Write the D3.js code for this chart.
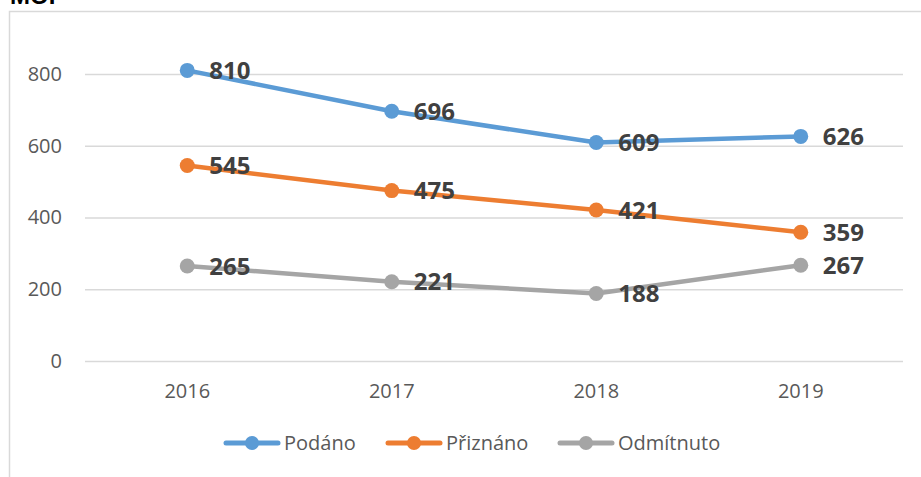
<!DOCTYPE html>
<html>
<head>
<meta charset="utf-8">
<script src="https://cdn.jsdelivr.net/npm/d3@7"></script>
<style>
  html, body { margin: 0; padding: 0; background: #fff; }
  svg { display: block; }
</style>
</head>
<body>
<svg id="chart" width="921" height="477"></svg>
<script>
const title = "MOP";
const categories = ["2016", "2017", "2018", "2019"];
const seriesNames = ["Podáno", "Přiznáno", "Odmítnuto"];
const podano = [810, 696, 609, 626];
const priznano = [545, 475, 421, 359];
const odmitnuto = [265, 221, 188, 267];
const yTicks = [0, 200, 400, 600, 800];
const colors = ["#5B9BD5", "#ED7D31", "#A5A5A5"];

const series = [podano, priznano, odmitnuto].map((v, i) => ({ name: seriesNames[i], values: v, color: colors[i] }));

const svg = d3.select("#chart");
const W = 921, H = 477;

// chart border
svg.append("path")
  .attr("d", `M9.5,${H} L9.5,11.5 L${W},11.5`)
  .attr("fill", "none").attr("stroke", "#d9d9d9").attr("stroke-width", 1.5);

// title (partially cut off at top)
svg.append("text")
  .attr("x", 10).attr("y", 4)
  .attr("font-family", "Liberation Sans, Arial, sans-serif")
  .attr("font-weight", "bold").attr("font-size", 24)
  .attr("fill", "#000").text(title);

const x = d3.scaleBand().domain(categories).range([85, 903]);
const y = d3.scaleLinear().domain([0, 800]).range([361, 74]);
const cx = c => x(c) + x.bandwidth() / 2;

// gridlines
const yAxis = d3.axisLeft(y).tickValues(yTicks).tickSize(-(903 - 85)).tickPadding(23);
const gy = svg.append("g").attr("transform", "translate(85,0)").call(yAxis);
gy.select(".domain").remove();
gy.selectAll(".tick line").attr("stroke", "#d9d9d9").attr("stroke-width", 1.3);
gy.selectAll(".tick text")
  .attr("font-family", "Open Sans, sans-serif").attr("font-size", 20)
  .attr("fill", "#595959");

// x axis labels
const xAxis = d3.axisBottom(x).tickSize(0).tickPadding(0);
const gx = svg.append("g").attr("transform", "translate(0,380)").call(xAxis);
gx.select(".domain").remove();
gx.selectAll(".tick text")
  .attr("font-family", "Open Sans, sans-serif").attr("font-size", 20)
  .attr("fill", "#595959").attr("dy", "0.35em").attr("y", 11);

const line = d3.line().x((d, i) => cx(categories[i])).y(d => y(d));

series.forEach(s => {
  svg.append("path").datum(s.values)
    .attr("d", line).attr("fill", "none")
    .attr("stroke", s.color).attr("stroke-width", 4.5)
    .attr("stroke-linejoin", "round").attr("stroke-linecap", "round");
  svg.selectAll(null).data(s.values).enter().append("circle")
    .attr("cx", (d, i) => cx(categories[i])).attr("cy", d => y(d))
    .attr("r", 7.5).attr("fill", s.color);
});

series.forEach(s => {
  svg.selectAll(null).data(s.values).enter().append("text")
    .attr("x", (d, i) => cx(categories[i]) + 22).attr("y", d => y(d))
    .attr("dy", "0.36em")
    .attr("font-family", "Open Sans, sans-serif").attr("font-weight", "bold")
    .attr("font-size", 24).attr("fill", "#404040")
    .text(d => d);
});

// legend
const legendX = [224, 386, 558];
const ly = 443;
series.forEach((s, i) => {
  const g = svg.append("g").attr("transform", `translate(${legendX[i]},${ly})`);
  g.append("line").attr("x1", 2).attr("x2", 54).attr("y1", 0).attr("y2", 0)
    .attr("stroke", s.color).attr("stroke-width", 5).attr("stroke-linecap", "round");
  g.append("circle").attr("cx", 28).attr("cy", 0).attr("r", 7).attr("fill", s.color);
  g.append("text").attr("x", 60).attr("y", 0).attr("dy", "0.35em")
    .attr("font-family", "Open Sans, sans-serif").attr("font-size", 20)
    .attr("fill", "#595959").text(s.name);
});
</script>
</body>
</html>
